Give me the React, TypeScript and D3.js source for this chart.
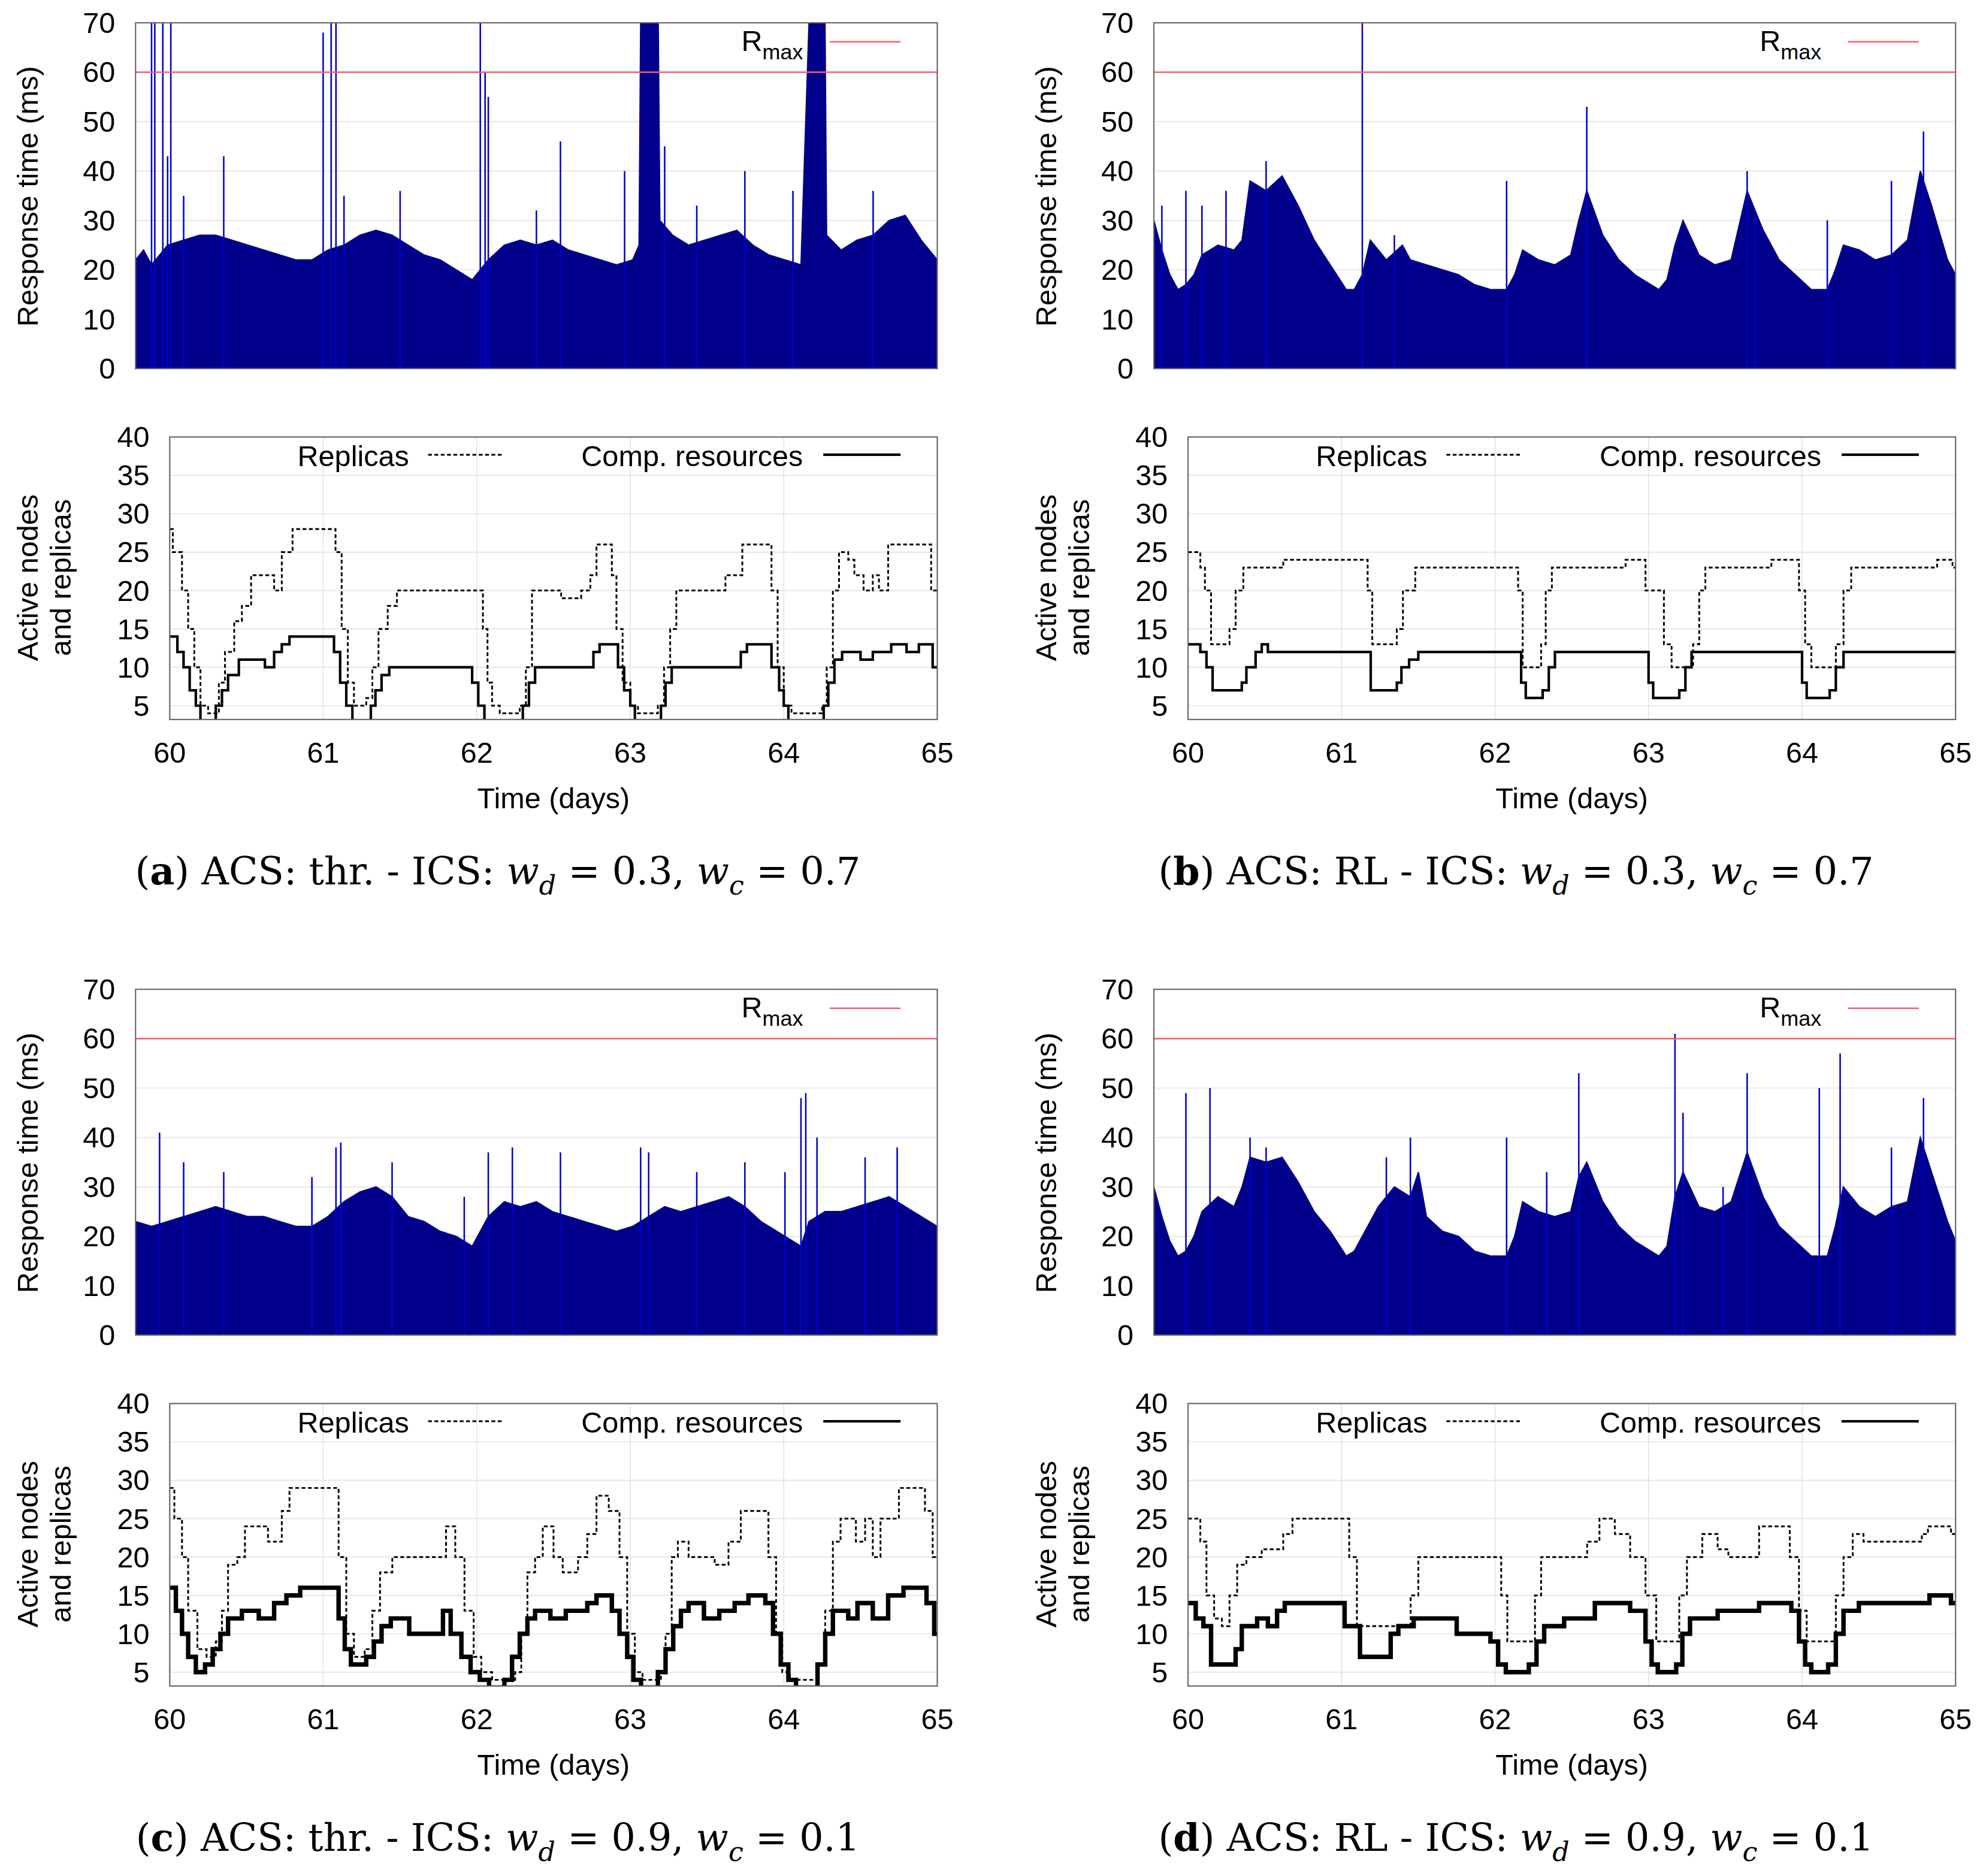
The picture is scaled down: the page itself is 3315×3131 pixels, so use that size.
import React, { useEffect, useRef } from 'react';
import * as d3 from 'd3';

type P = [number, number];

// response time envelopes (day, ms)
const rtA: P[] = [[60,22],[60.05,24],[60.1,21],[60.2,25],[60.3,26],[60.4,27],[60.5,27],[60.6,26],[60.7,25],[60.8,24],[60.9,23],[61.0,22],[61.1,22],[61.2,24],[61.3,25],[61.4,27],[61.5,28],[61.6,27],[61.7,25],[61.8,23],[61.9,22],[62.0,20],[62.1,18],[62.2,22],[62.3,25],[62.4,26],[62.5,25],[62.6,26],[62.7,24],[62.8,23],[62.9,22],[63.0,21],[63.1,22],[63.14,25],[63.15,70],[63.26,70],[63.27,30],[63.35,27],[63.45,25],[63.55,26],[63.65,27],[63.75,28],[63.85,25],[63.95,23],[64.05,22],[64.15,21],[64.2,70],[64.3,70],[64.31,27],[64.4,24],[64.5,26],[64.6,27],[64.7,30],[64.8,31],[64.9,26],[65,22]];
const rtB: P[] = [[60,30],[60.05,24],[60.1,19],[60.15,16],[60.2,17],[60.25,19],[60.3,23],[60.4,25],[60.5,24],[60.55,26],[60.6,38],[60.7,36],[60.8,39],[60.9,33],[61.0,26],[61.1,21],[61.2,16],[61.25,16],[61.3,19],[61.35,26],[61.45,22],[61.55,25],[61.6,22],[61.7,21],[61.8,20],[61.9,19],[62.0,17],[62.1,16],[62.2,16],[62.25,19],[62.3,24],[62.4,22],[62.5,21],[62.6,23],[62.65,30],[62.7,36],[62.8,27],[62.9,22],[63.0,19],[63.1,17],[63.15,16],[63.2,18],[63.25,25],[63.3,30],[63.4,23],[63.5,21],[63.6,22],[63.7,36],[63.8,28],[63.9,22],[64.0,19],[64.1,16],[64.2,16],[64.25,20],[64.3,25],[64.4,24],[64.5,22],[64.6,23],[64.7,26],[64.78,40],[64.85,33],[64.95,22],[65,19]];
const rtC: P[] = [[60,23],[60.1,22],[60.2,23],[60.3,24],[60.4,25],[60.5,26],[60.6,25],[60.7,24],[60.8,24],[60.9,23],[61.0,22],[61.1,22],[61.2,24],[61.3,27],[61.4,29],[61.5,30],[61.6,28],[61.7,24],[61.8,23],[61.9,21],[62.0,20],[62.1,18],[62.2,24],[62.3,27],[62.4,26],[62.5,27],[62.6,25],[62.7,24],[62.8,23],[62.9,22],[63.0,21],[63.1,22],[63.2,24],[63.3,26],[63.4,25],[63.5,26],[63.6,27],[63.7,28],[63.8,26],[63.9,23],[64.0,21],[64.1,19],[64.15,18],[64.2,23],[64.3,25],[64.4,25],[64.5,26],[64.6,27],[64.7,28],[64.8,26],[64.9,24],[65,22]];
const rtD: P[] = [[60,30],[60.05,24],[60.1,19],[60.15,16],[60.2,17],[60.25,20],[60.3,25],[60.4,28],[60.5,26],[60.55,30],[60.6,36],[60.7,35],[60.8,36],[60.9,31],[61.0,25],[61.1,21],[61.2,16],[61.25,17],[61.3,20],[61.4,26],[61.5,30],[61.6,28],[61.65,33],[61.7,24],[61.8,21],[61.9,20],[62.0,17],[62.1,16],[62.2,16],[62.25,20],[62.3,27],[62.4,25],[62.5,24],[62.6,25],[62.65,32],[62.7,35],[62.8,27],[62.9,22],[63.0,19],[63.1,17],[63.15,16],[63.2,18],[63.25,28],[63.3,33],[63.4,26],[63.5,25],[63.6,27],[63.7,37],[63.8,28],[63.9,22],[64.0,19],[64.1,16],[64.2,16],[64.25,22],[64.3,30],[64.4,26],[64.5,24],[64.6,26],[64.7,27],[64.78,40],[64.85,33],[64.95,23],[65,19]];

// isolated spikes (day, ms)
const spA: P[] = [[60.1,70],[60.12,70],[60.17,70],[60.2,43],[60.22,70],[60.3,35],[60.55,43],[61.17,68],[61.22,70],[61.25,70],[61.3,35],[61.65,36],[62.15,70],[62.18,60],[62.2,55],[62.5,32],[62.65,46],[63.05,40],[63.3,45],[63.5,33],[63.8,40],[64.1,36],[64.6,36]];
const spB: P[] = [[60.05,33],[60.2,36],[60.3,33],[60.45,36],[60.7,42],[61.3,70],[61.5,27],[62.2,38],[62.7,53],[63.75,32],[63.7,40],[64.2,30],[64.6,38],[64.8,48]];
const spC: P[] = [[60.15,41],[60.3,35],[60.55,33],[61.1,32],[61.25,38],[61.28,39],[61.6,35],[62.05,28],[62.2,37],[62.35,38],[62.65,37],[63.15,38],[63.2,37],[63.5,33],[63.8,35],[64.05,33],[64.15,48],[64.18,49],[64.25,40],[64.55,36],[64.75,38]];
const spD: P[] = [[60.2,49],[60.35,50],[60.6,40],[60.7,38],[61.45,36],[61.6,40],[62.2,40],[62.45,33],[62.65,53],[63.25,61],[63.3,45],[63.55,30],[63.7,53],[64.15,50],[64.28,57],[64.6,38],[64.8,48]];

// replica counts (step starts)
const repA: P[] = [[60,28],[60.02,25],[60.08,20],[60.12,15],[60.16,10],[60.2,5],[60.25,4],[60.32,8],[60.36,12],[60.42,16],[60.47,18],[60.53,22],[60.68,20],[60.73,25],[60.8,28],[61.08,25],[61.12,15],[61.16,8],[61.2,5],[61.28,6],[61.32,10],[61.36,15],[61.42,18],[61.48,20],[62.04,15],[62.07,8],[62.1,5],[62.15,4],[62.28,5],[62.32,10],[62.36,20],[62.55,19],[62.68,20],[62.74,22],[62.78,26],[62.88,22],[62.91,15],[62.95,8],[63.0,5],[63.05,4],[63.18,5],[63.22,10],[63.26,15],[63.3,20],[63.62,22],[63.73,26],[63.92,20],[63.96,10],[64.0,5],[64.05,4],[64.25,5],[64.28,10],[64.32,20],[64.36,25],[64.42,24],[64.46,22],[64.52,20],[64.58,22],[64.62,20],[64.68,26],[64.96,20],[65,20]];
const cmpA: P[] = [[60,14],[60.05,12],[60.09,10],[60.13,7],[60.17,5],[60.2,3],[60.3,5],[60.34,7],[60.38,9],[60.45,11],[60.62,10],[60.68,12],[60.73,13],[60.78,14],[61.07,12],[61.11,8],[61.15,5],[61.19,3],[61.31,5],[61.34,7],[61.38,9],[61.43,10],[61.97,8],[62.01,5],[62.05,3],[62.3,5],[62.34,8],[62.38,10],[62.76,12],[62.8,13],[62.92,10],[62.96,7],[63.0,5],[63.03,3],[63.2,5],[63.23,8],[63.27,10],[63.72,12],[63.76,13],[63.92,10],[63.97,7],[64.0,5],[64.03,3],[64.26,5],[64.29,8],[64.33,11],[64.38,12],[64.5,11],[64.58,12],[64.7,13],[64.8,12],[64.88,13],[64.97,10],[65,10]];
const repB: P[] = [[60,25],[60.08,23],[60.11,20],[60.15,13],[60.27,15],[60.31,20],[60.36,23],[60.62,24],[61.17,20],[61.2,13],[61.36,15],[61.4,20],[61.48,23],[62.15,20],[62.18,10],[62.3,13],[62.33,20],[62.37,23],[62.85,24],[62.98,20],[63.1,13],[63.15,10],[63.29,13],[63.33,20],[63.37,23],[63.8,24],[63.98,20],[64.02,13],[64.06,10],[64.22,13],[64.27,20],[64.32,23],[64.88,24],[64.98,23],[65,23]];
const cmpB: P[] = [[60,13],[60.08,12],[60.12,10],[60.16,7],[60.35,8],[60.38,10],[60.44,12],[60.48,13],[60.52,12],[61.19,7],[61.36,8],[61.39,10],[61.44,11],[61.5,12],[62.17,8],[62.2,6],[62.31,7],[62.35,10],[62.39,12],[63.0,8],[63.03,6],[63.2,7],[63.24,10],[63.28,12],[64.0,8],[64.03,6],[64.18,7],[64.22,10],[64.27,12],[65,12]];
const repC: P[] = [[60,29],[60.03,25],[60.08,20],[60.12,13],[60.18,8],[60.24,7],[60.3,9],[60.34,13],[60.38,19],[60.44,20],[60.49,24],[60.64,22],[60.73,26],[60.78,29],[61.1,20],[61.15,10],[61.2,7],[61.27,8],[61.32,13],[61.37,18],[61.45,20],[61.8,24],[61.86,20],[61.92,13],[61.98,7],[62.03,5],[62.1,4],[62.25,5],[62.29,10],[62.33,18],[62.38,20],[62.43,24],[62.5,20],[62.56,18],[62.66,20],[62.72,23],[62.78,28],[62.86,26],[62.93,20],[62.98,10],[63.03,5],[63.08,4],[63.2,5],[63.23,10],[63.27,20],[63.31,22],[63.38,20],[63.55,19],[63.64,22],[63.72,26],[63.9,20],[63.95,10],[63.99,5],[64.04,4],[64.22,6],[64.27,13],[64.32,22],[64.37,25],[64.47,22],[64.53,25],[64.58,20],[64.63,25],[64.75,29],[64.92,26],[64.97,20],[65,20]];
const cmpC: P[] = [[60,16],[60.04,13],[60.08,10],[60.12,7],[60.17,5],[60.23,6],[60.28,8],[60.33,10],[60.38,12],[60.47,13],[60.58,12],[60.68,14],[60.76,15],[60.85,16],[61.1,12],[61.14,8],[61.18,6],[61.28,7],[61.33,9],[61.38,11],[61.44,12],[61.56,10],[61.78,13],[61.83,10],[61.9,7],[61.96,5],[62.02,4],[62.08,3],[62.18,4],[62.23,7],[62.28,10],[62.33,12],[62.38,13],[62.48,12],[62.58,13],[62.72,14],[62.78,15],[62.88,13],[62.93,10],[62.98,7],[63.02,4],[63.07,3],[63.18,5],[63.23,8],[63.28,11],[63.33,13],[63.38,14],[63.48,12],[63.58,13],[63.68,14],[63.77,15],[63.88,14],[63.93,10],[63.98,6],[64.03,4],[64.08,3],[64.22,6],[64.27,10],[64.32,13],[64.42,12],[64.48,14],[64.58,12],[64.68,15],[64.78,16],[64.93,14],[64.98,10],[65,10]];
const repD: P[] = [[60,25],[60.08,22],[60.12,15],[60.17,12],[60.22,11],[60.27,15],[60.32,19],[60.38,20],[60.48,21],[60.62,23],[60.68,25],[61.05,20],[61.1,11],[61.45,15],[61.5,20],[62.04,15],[62.08,9],[62.26,15],[62.3,20],[62.6,22],[62.68,25],[62.78,23],[62.88,20],[62.98,15],[63.05,9],[63.2,15],[63.25,20],[63.35,23],[63.45,21],[63.52,20],[63.72,24],[63.92,20],[63.98,13],[64.03,9],[64.22,15],[64.27,20],[64.33,23],[64.4,22],[64.78,23],[64.82,24],[64.97,23],[65,23]];
const cmpD: P[] = [[60,14],[60.05,12],[60.1,11],[60.15,6],[60.31,8],[60.35,11],[60.45,12],[60.52,11],[60.58,13],[60.63,14],[61.02,11],[61.12,7],[61.32,10],[61.37,11],[61.47,12],[61.75,10],[61.97,9],[62.02,6],[62.07,5],[62.22,6],[62.27,9],[62.32,11],[62.45,12],[62.65,14],[62.88,13],[62.98,9],[63.02,6],[63.06,5],[63.18,6],[63.22,10],[63.27,12],[63.45,13],[63.72,14],[63.93,13],[63.98,9],[64.02,6],[64.06,5],[64.17,6],[64.22,10],[64.27,13],[64.37,14],[64.83,15],[64.97,14],[65,14]];

const yTicksTop = [0, 10, 20, 30, 40, 50, 60, 70];
const yTicksBot = [5, 10, 15, 20, 25, 30, 35, 40];
const xTicks = [60, 61, 62, 63, 64, 65];
const R_MAX = 60;

const panels = [
  { id: 'a', acs: 'thr.', wd: '0.3', wc: '0.7', rt: rtA, sp: spA, rep: repA, cmp: cmpA },
  { id: 'b', acs: 'RL', wd: '0.3', wc: '0.7', rt: rtB, sp: spB, rep: repB, cmp: cmpB },
  { id: 'c', acs: 'thr.', wd: '0.9', wc: '0.1', rt: rtC, sp: spC, rep: repC, cmp: cmpC },
  { id: 'd', acs: 'RL', wd: '0.9', wc: '0.1', rt: rtD, sp: spD, rep: repD, cmp: cmpD },
];

const SANS = 'Liberation Sans, Arial, sans-serif';
const SERIF = 'DejaVu Serif, Liberation Serif, serif';
const FS = 23;

export default function App() {
  const ref = useRef<SVGSVGElement>(null);

  useEffect(() => {
    document.body.style.margin = '0';
    const svg = d3.select(ref.current);
    svg.selectAll('*').remove();

    panels.forEach((p, i) => {
      const ox = (i % 2) * 804;
      const oy = Math.floor(i / 2) * 763;
      const g = svg.append('g').attr('transform', `translate(${ox},${oy})`);
      const clipId = `clip-${p.id}`;

      // top: response time
      const xT = d3.scaleLinear().domain([60, 65]).range([107, 740]);
      const yT = d3.scaleLinear().domain([0, 70]).range([291, 18]);
      g.append('clipPath').attr('id', clipId).append('rect')
        .attr('x', 107).attr('y', 18).attr('width', 633).attr('height', 273);
      yTicksTop.forEach(t => {
        g.append('line').attr('x1', 107).attr('x2', 740).attr('y1', yT(t)).attr('y2', yT(t))
          .attr('stroke', '#e4e4e4').attr('stroke-width', 0.8);
        g.append('text').attr('x', 91).attr('y', yT(t) + 8).attr('text-anchor', 'end')
          .attr('font-size', FS).attr('font-family', SANS).text(t);
      });
      const pg = g.append('g').attr('clip-path', `url(#${clipId})`);
      const area = d3.area<P>().x(d => xT(d[0])).y0(yT(0)).y1(d => yT(d[1]));
      pg.append('path').datum(p.rt).attr('d', area).attr('fill', '#00008b').attr('stroke', '#00008b').attr('stroke-width', 1);
      pg.selectAll('line.sp').data(p.sp).enter().append('line')
        .attr('x1', d => xT(d[0])).attr('x2', d => xT(d[0]))
        .attr('y1', yT(0)).attr('y2', d => yT(d[1]))
        .attr('stroke', '#0000cc').attr('stroke-width', 1.2);
      pg.append('line').attr('x1', 107).attr('x2', 740).attr('y1', yT(R_MAX)).attr('y2', yT(R_MAX))
        .attr('stroke', '#ff5a6e').attr('stroke-width', 1.2);
      g.append('rect').attr('x', 107).attr('y', 18).attr('width', 633).attr('height', 273)
        .attr('fill', 'none').attr('stroke', '#666').attr('stroke-width', 1);
      const lt = g.append('text').attr('x', 634).attr('y', 40).attr('text-anchor', 'end')
        .attr('font-size', FS).attr('font-family', SANS);
      lt.append('tspan').text('R');
      lt.append('tspan').attr('font-size', 17).attr('dy', 7).text('max');
      g.append('line').attr('x1', 655).attr('x2', 711).attr('y1', 33).attr('y2', 33)
        .attr('stroke', '#ff5a6e').attr('stroke-width', 1.2);
      g.append('text').attr('transform', 'translate(30,155) rotate(-90)').attr('text-anchor', 'middle')
        .attr('font-size', FS).attr('font-family', SANS).text('Response time (ms)');

      // bottom: nodes and replicas
      const xB = d3.scaleLinear().domain([60, 65]).range([134, 740]);
      const yB = d3.scaleLinear().domain([3.2, 40]).range([568, 345]);
      yTicksBot.forEach(t => {
        g.append('line').attr('x1', 134).attr('x2', 740).attr('y1', yB(t)).attr('y2', yB(t))
          .attr('stroke', '#e4e4e4').attr('stroke-width', 0.8);
        g.append('text').attr('x', 118).attr('y', yB(t) + 8).attr('text-anchor', 'end')
          .attr('font-size', FS).attr('font-family', SANS).text(t);
      });
      xTicks.forEach(t => {
        g.append('line').attr('x1', xB(t)).attr('x2', xB(t)).attr('y1', 345).attr('y2', 568)
          .attr('stroke', '#e4e4e4').attr('stroke-width', 0.8);
        g.append('text').attr('x', xB(t)).attr('y', 602).attr('text-anchor', 'middle')
          .attr('font-size', FS).attr('font-family', SANS).text(t);
      });
      const clipB = `clipb-${p.id}`;
      g.append('clipPath').attr('id', clipB).append('rect')
        .attr('x', 134).attr('y', 345).attr('width', 606).attr('height', 223);
      const bg = g.append('g').attr('clip-path', `url(#${clipB})`);
      const step = d3.line<P>().x(d => xB(d[0])).y(d => yB(d[1])).curve(d3.curveStepAfter);
      bg.append('path').datum(p.rep).attr('d', step).attr('fill', 'none')
        .attr('stroke', '#000').attr('stroke-width', 1.4).attr('stroke-dasharray', '3,2');
      bg.append('path').datum(p.cmp).attr('d', step).attr('fill', 'none')
        .attr('stroke', '#000').attr('stroke-width', p.id === 'a' || p.id === 'b' ? 2 : 3.5);
      g.append('rect').attr('x', 134).attr('y', 345).attr('width', 606).attr('height', 223)
        .attr('fill', 'none').attr('stroke', '#666').attr('stroke-width', 1);
      g.append('text').attr('x', 323).attr('y', 368).attr('text-anchor', 'end')
        .attr('font-size', FS).attr('font-family', SANS).text('Replicas');
      g.append('line').attr('x1', 338).attr('x2', 398).attr('y1', 359).attr('y2', 359)
        .attr('stroke', '#000').attr('stroke-width', 1.4).attr('stroke-dasharray', '3,2');
      g.append('text').attr('x', 634).attr('y', 368).attr('text-anchor', 'end')
        .attr('font-size', FS).attr('font-family', SANS).text('Comp. resources');
      g.append('line').attr('x1', 650).attr('x2', 711).attr('y1', 359).attr('y2', 359)
        .attr('stroke', '#000').attr('stroke-width', 2);
      g.append('text').attr('transform', 'translate(30,456) rotate(-90)').attr('text-anchor', 'middle')
        .attr('font-size', FS).attr('font-family', SANS).text('Active nodes');
      g.append('text').attr('transform', 'translate(56,456) rotate(-90)').attr('text-anchor', 'middle')
        .attr('font-size', FS).attr('font-family', SANS).text('and replicas');
      g.append('text').attr('x', 437).attr('y', 638).attr('text-anchor', 'middle')
        .attr('font-size', FS).attr('font-family', SANS).text('Time (days)');

      // caption
      const c = g.append('text').attr('x', 393).attr('y', 698).attr('text-anchor', 'middle')
        .attr('font-size', 30).attr('font-family', SERIF);
      c.append('tspan').text('(');
      c.append('tspan').attr('font-weight', 'bold').text(p.id);
      c.append('tspan').text(`) ACS: ${p.acs} - ICS: `);
      c.append('tspan').attr('font-style', 'italic').text('w');
      c.append('tspan').attr('font-style', 'italic').attr('font-size', 21).attr('dy', 8).text('d');
      c.append('tspan').attr('dy', -8).text(` = ${p.wd}, `);
      c.append('tspan').attr('font-style', 'italic').text('w');
      c.append('tspan').attr('font-style', 'italic').attr('font-size', 21).attr('dy', 8).text('c');
      c.append('tspan').attr('dy', -8).text(` = ${p.wc}`);
    });
  }, []);

  return (
    <svg ref={ref} width={3315} height={3131} viewBox="0 0 1568 1481" style={{ display: 'block', background: '#fff' }} />
  );
}
